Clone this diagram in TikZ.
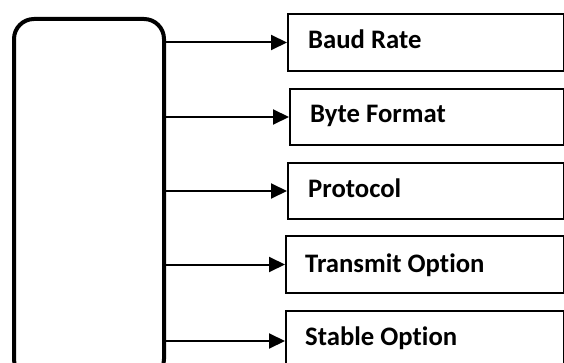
\documentclass[tikz,border=0pt]{standalone}
\usepackage{fontspec}
\setmainfont{Carlito}[Ligatures={NoCommon}]
\usetikzlibrary{arrows.meta}
\begin{document}
\begin{tikzpicture}[x=1pt,y=-1pt,
  mainbox/.style={draw, line width=4pt, rounded corners=20pt, minimum width=150pt, minimum height=360pt, inner sep=0pt, anchor=north west},
  optbox/.style={draw, line width=2pt, inner sep=0pt, anchor=north west},
  lbl/.style={anchor=base west, inner sep=0pt, font=\fontsize{26.7}{30}\selectfont\bfseries},
  arr/.style={line width=2pt, -{Triangle[length=16pt,width=15pt]}}]
\clip (0,0) rectangle (564,363);
\node[mainbox] (main) at (12,17) {};
\node[optbox, minimum width=276pt, minimum height=57pt] (b1) at (287,13) {};
\node[optbox, minimum width=274pt, minimum height=56pt] (b2) at (289,88) {};
\node[optbox, minimum width=276pt, minimum height=56pt] (b3) at (287,162) {};
\node[optbox, minimum width=278pt, minimum height=57pt] (b4) at (285,235) {};
\node[optbox, minimum width=278pt, minimum height=60pt] (b5) at (285,310) {};
\node[lbl] (t1) at (308,49) {Baud Rate};
\node[lbl] (t2) at (310,123) {Byte Format};
\node[lbl] (t3) at (308,198) {Protocol};
\node[lbl] (t4) at (305,272) {Transmit Option};
\node[lbl] (t5) at (305,345) {Stable Option};
\draw[arr] (main.east |- b1.west) -- (b1.west);
\draw[arr] (main.east |- b2.west) -- (b2.west);
\draw[arr] (main.east |- b3.west) -- (b3.west);
\draw[arr] (main.east |- b4.west) -- (b4.west);
\draw[arr] (main.east |- b5.west) -- (b5.west);
\end{tikzpicture}
\end{document}
